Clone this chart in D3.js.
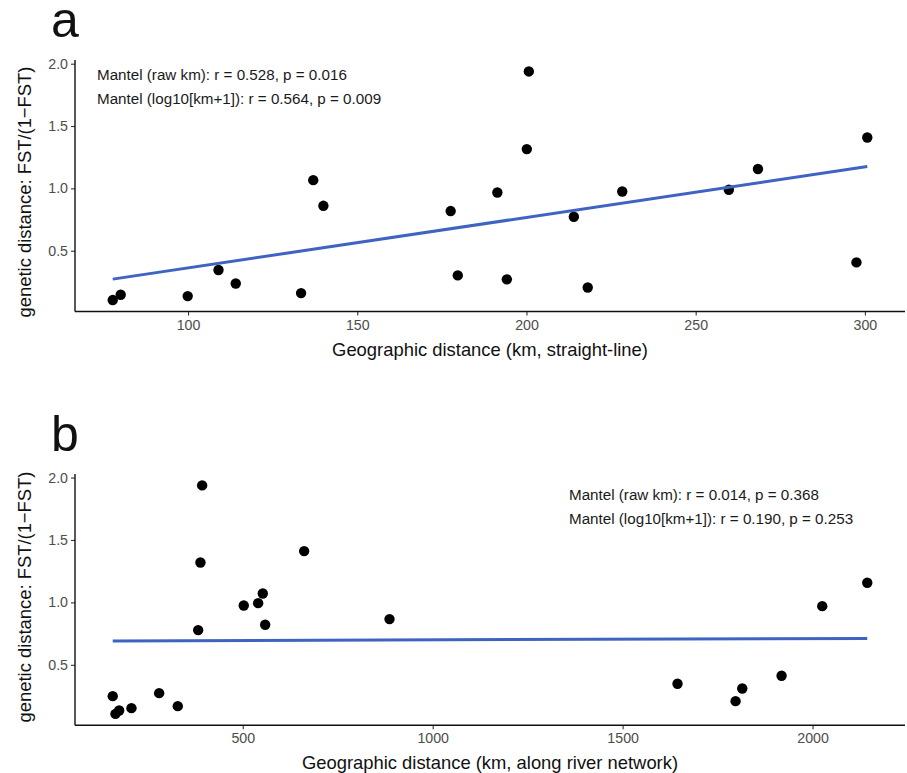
<!DOCTYPE html>
<html>
<head>
<meta charset="utf-8">
<script src="https://cdn.jsdelivr.net/npm/d3@7/dist/d3.min.js"></script>
<style>
  html, body { margin: 0; padding: 0; background: #ffffff; }
  svg { display: block; font-family: "Liberation Sans", Arial, Helvetica, sans-serif; }
</style>
</head>
<body>
<svg id="chart" width="907" height="773"></svg>
<script>
// ---- Data ----
// Panel a: straight-line geographic distance (km) vs FST/(1-FST)
const distStraight = [77.75, 80.1, 99.9, 109.0, 114.1, 133.4, 137.0, 140.0, 177.6, 179.7, 191.4,
                      194.2, 200.7, 200.1, 214.0, 218.1, 228.3, 259.8, 268.4, 297.5, 300.7];
const fstA         = [0.104, 0.147, 0.136, 0.345, 0.237, 0.160, 1.066, 0.860, 0.818, 0.302, 0.967,
                      0.270, 1.938, 1.315, 0.772, 0.205, 0.975, 0.989, 1.155, 0.406, 1.408];
// Panel b: river-network distance (km) vs FST/(1-FST)
const distRiver    = [157.7, 164.8, 174.6, 207.0, 279.9, 328.9, 393.1, 388.6, 382.6, 502.6, 540.5,
                      552.7, 559.0, 661.6, 886.3, 1644.5, 1797.3, 1814.9, 1918.4, 2025.5, 2144.0];
const fstB         = [0.249, 0.107, 0.134, 0.153, 0.273, 0.169, 1.937, 1.320, 0.778, 0.975, 0.994,
                      1.071, 0.821, 1.411, 0.866, 0.348, 0.209, 0.310, 0.412, 0.970, 1.157];

const ticksXA = [100, 150, 200, 250, 300];
const ticksXB = [500, 1000, 1500, 2000];
const ticksY  = [0.5, 1.0, 1.5, 2.0];

const panelLabels = ["a", "b"];
const xTitles = ["Geographic distance (km, straight-line)", "Geographic distance (km, along river network)"];
const yTitle = "genetic distance: FST/(1\u2212FST)";
const mantelA = ["Mantel (raw km): r = 0.528, p = 0.016", "Mantel (log10[km+1]): r = 0.564, p = 0.009"];
const mantelB = ["Mantel (raw km): r = 0.014, p = 0.368", "Mantel (log10[km+1]): r = 0.190, p = 0.253"];

// ---- Drawing ----
const svg = d3.select("#chart");
const lineColor = "#3f63c0";

function expand(ext, f) {
  const r = ext[1] - ext[0];
  return [ext[0] - r * f, ext[1] + r * f];
}

function linfit(xs, ys) {
  const mx = d3.mean(xs), my = d3.mean(ys);
  let sxy = 0, sxx = 0;
  xs.forEach((x, i) => { sxy += (x - mx) * (ys[i] - my); sxx += (x - mx) * (x - mx); });
  const b = sxy / sxx;
  return { a: my - b * mx, b: b };
}

function panel(cfg) {
  const { xs, ys, xTicks, left, right, top, bottom, label, labelY, xTitle, xTitleY, yTitleCY, notes, noteX, noteY } = cfg;
  const x = d3.scaleLinear().domain(expand(d3.extent(xs), 0.05)).range([left, right]);
  const y = d3.scaleLinear().domain(expand(d3.extent(ys), 0.05)).range([bottom, top]);
  const g = svg.append("g");

  // axes
  const xAxis = d3.axisBottom(x).tickValues(xTicks).tickFormat(d3.format("d")).tickSize(4).tickPadding(4);
  const yAxis = d3.axisLeft(y).tickValues(ticksY).tickFormat(d3.format(".1f")).tickSize(4).tickPadding(3);
  const gx = g.append("g").attr("transform", `translate(0,${bottom})`).call(xAxis);
  const gy = g.append("g").attr("transform", `translate(${left},0)`).call(yAxis);
  [gx, gy].forEach(a => {
    a.select(".domain").remove();
    a.selectAll(".tick line").attr("stroke", "#333").attr("stroke-width", 1.1);
    a.selectAll(".tick text").attr("fill", "#4d4d4d").style("font-size", "14.2px")
      .style("font-family", "'Liberation Sans', Arial, sans-serif");
  });
  // axis lines (theme_classic)
  g.append("line").attr("x1", left).attr("x2", right).attr("y1", bottom).attr("y2", bottom)
    .attr("stroke", "#111").attr("stroke-width", 1.4);
  g.append("line").attr("x1", left).attr("x2", left).attr("y1", top).attr("y2", bottom)
    .attr("stroke", "#111").attr("stroke-width", 1.4);

  // points
  g.append("g").selectAll("circle").data(xs.map((d, i) => [d, ys[i]])).join("circle")
    .attr("cx", d => x(d[0])).attr("cy", d => y(d[1])).attr("r", 5.2).attr("fill", "#000");

  // linear fit
  const fit = linfit(xs, ys);
  const ext = d3.extent(xs);
  g.append("path")
    .datum(ext.map(v => [v, fit.a + fit.b * v]))
    .attr("d", d3.line().x(d => x(d[0])).y(d => y(d[1])))
    .attr("fill", "none").attr("stroke", lineColor).attr("stroke-width", 3);

  // annotations
  notes.forEach((t, i) => {
    g.append("text").attr("x", noteX).attr("y", noteY + i * 23.5).text(t)
      .attr("fill", "#1a1a1a").style("font-size", "15.2px");
  });

  // titles
  g.append("text").attr("x", (left + right) / 2).attr("y", xTitleY).attr("text-anchor", "middle")
    .text(xTitle).attr("fill", "#111").style("font-size", "18.4px");
  g.append("text").attr("transform", `translate(31,${yTitleCY}) rotate(-90)`).attr("text-anchor", "middle")
    .text(yTitle).attr("fill", "#111").style("font-size", "18.4px");

  // panel label
  g.append("text").attr("x", 51).attr("y", labelY).text(label).attr("fill", "#111").style("font-size", "50px");
}

panel({ xs: distStraight, ys: fstA, xTicks: ticksXA, left: 75, right: 905, top: 60, bottom: 311.5,
        label: panelLabels[0], labelY: 37, xTitle: xTitles[0], xTitleY: 356, yTitleCY: 192,
        notes: mantelA, noteX: 97, noteY: 80 });
panel({ xs: distRiver, ys: fstB, xTicks: ticksXB, left: 75, right: 905, top: 474, bottom: 725.3,
        label: panelLabels[1], labelY: 451, xTitle: xTitles[1], xTitleY: 769, yTitleCY: 597,
        notes: mantelB, noteX: 569, noteY: 500 });
</script>
</body>
</html>
